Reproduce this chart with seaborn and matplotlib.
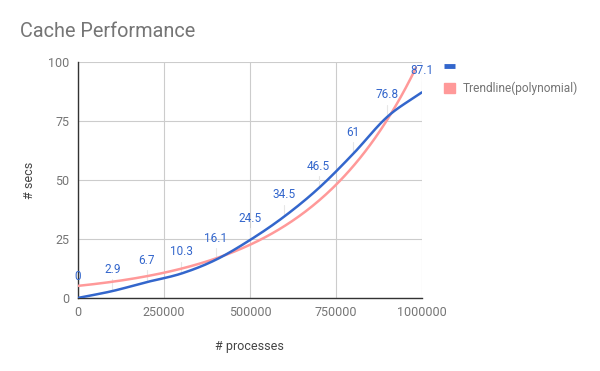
import numpy as np
import pandas as pd
import matplotlib
matplotlib.use('Agg')
import matplotlib.pyplot as plt
import seaborn as sns
from matplotlib.lines import Line2D
from matplotlib.patches import Patch

# data
processes = [0, 100000, 200000, 300000, 400000, 500000,
             600000, 700000, 800000, 900000, 1000000]
secs = [0, 2.9, 6.7, 10.3, 16.1, 24.5, 34.5, 46.5, 61, 76.8, 87.1]

# trendline values
trend_x = [0, 250000, 416000, 500000, 750000, 916000, 983000]
trend_y = [5.1, 10.7, 17.5, 22.5, 48, 78.4, 98.5]

x_ticks = [0, 250000, 500000, 750000, 1000000]
y_ticks = [0, 25, 50, 75, 100]

BLUE = '#3366CC'
RED = '#FF9999'
GREY = '#757575'


def smooth_curve(x, y, steps=20):
    """Catmull-Rom style smoothing for drawing the series line."""
    x = np.asarray(x, dtype=float)
    y = np.asarray(y, dtype=float)
    px = np.concatenate([[2 * x[0] - x[1]], x, [2 * x[-1] - x[-2]]])
    py = np.concatenate([[2 * y[0] - y[1]], y, [2 * y[-1] - y[-2]]])
    out_x, out_y = [], []
    t = np.linspace(0, 1, steps, endpoint=False)
    for i in range(1, len(px) - 2):
        for p, out in ((px, out_x), (py, out_y)):
            p0, p1, p2, p3 = p[i - 1], p[i], p[i + 1], p[i + 2]
            out.extend(0.5 * (2 * p1 + (-p0 + p2) * t
                              + (2 * p0 - 5 * p1 + 4 * p2 - p3) * t ** 2
                              + (-p0 + 3 * p1 - 3 * p2 + p3) * t ** 3))
    out_x.append(x[-1])
    out_y.append(y[-1])
    return np.array(out_x), np.array(out_y)


sns.set_theme(style='whitegrid')
plt.rcParams['font.family'] = ['Roboto', 'DejaVu Sans']

fig = plt.figure(figsize=(6, 3.71), dpi=100)
ax = fig.add_axes([0.13, 0.197, 0.573, 0.636])

# series line (smoothed)
sx, sy = smooth_curve(processes, secs)
df = pd.DataFrame({'processes': sx, 'secs': sy})
sns.lineplot(data=df, x='processes', y='secs', ax=ax, color=BLUE,
             linewidth=1.8, sort=False, zorder=4)

# trendline: smooth convex fit through the read-off points
coef = np.polyfit(np.array(trend_x) / 1e6, np.log(trend_y), 2)
tx = np.linspace(0, trend_x[-1], 200)
tdf = pd.DataFrame({'processes': tx,
                    'secs': np.exp(np.polyval(coef, tx / 1e6))})
sns.lineplot(data=tdf, x='processes', y='secs', ax=ax, color=RED,
             linewidth=1.8, zorder=3)

# data labels with faint leader lines
for px_, py_ in zip(processes, secs):
    ax.plot([px_, px_], [py_ + 1, py_ + 5], color='#e6e6e6', lw=0.8, zorder=2)
    ax.annotate(f'{py_:g}', (px_, py_), xytext=(0, 11),
                textcoords='offset points', ha='center', va='bottom',
                color=BLUE, fontsize=8.5, zorder=5)

ax.set_xlim(0, 1000000)
ax.set_ylim(0, 100)
ax.set_xticks(x_ticks)
ax.set_yticks(y_ticks)
ax.set_xticklabels([str(v) for v in x_ticks])
ax.set_yticklabels([str(v) for v in y_ticks])
ax.tick_params(axis='both', colors=GREY, labelsize=9, length=0, pad=6)
ax.grid(True, color='#cccccc', linewidth=0.8)

for side in ['top', 'right']:
    ax.spines[side].set_visible(False)
ax.spines['left'].set_color('#333333')
ax.spines['bottom'].set_color('#333333')
ax.spines['left'].set_linewidth(1)
ax.spines['bottom'].set_linewidth(1)

ax.set_xlabel('# processes', color='#444444', fontsize=9, labelpad=15)
ax.set_ylabel('# secs', color='#444444', fontsize=9, labelpad=9)

fig.text(0.033, 0.915, 'Cache Performance', color=GREY, fontsize=14.3,
         ha='left', va='center')

handles = [Line2D([0], [0], color=BLUE, lw=3.5, solid_capstyle='butt'),
           Patch(facecolor=RED, edgecolor=RED)]
leg = fig.legend(handles, ['', 'Trendline(polynomial)'],
                 loc='upper left', bbox_to_anchor=(0.722, 0.865),
                 frameon=False, fontsize=8.6, handlelength=0.9,
                 handleheight=0.9, handletextpad=0.7, labelspacing=0.65)
for t in leg.get_texts():
    t.set_color(GREY)

fig.savefig('out.png', dpi=100)
